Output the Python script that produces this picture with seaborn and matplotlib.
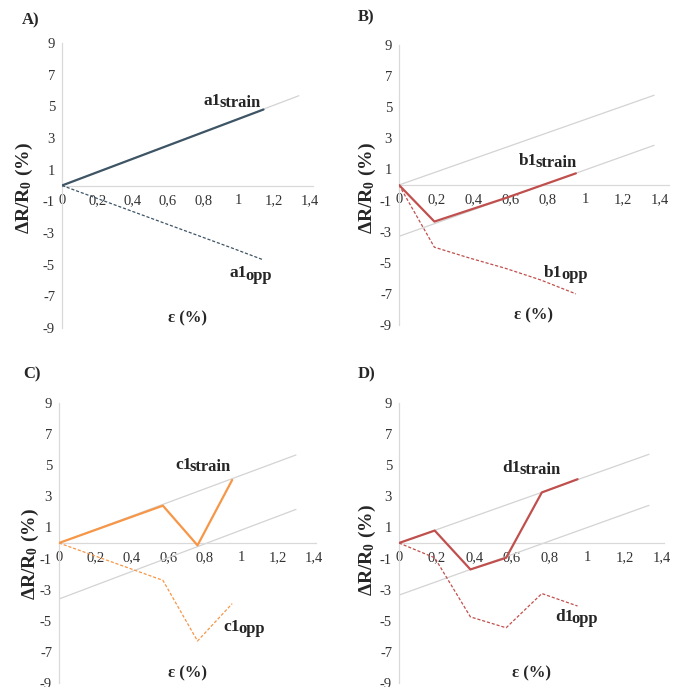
import seaborn as sns
import matplotlib.pyplot as plt

# strain steps (%)
X6 = [0, 0.19, 0.38, 0.57, 0.76, 0.95]
X7 = [0, 0.19, 0.38, 0.57, 0.76, 0.95, 1.14]

A1_STRAIN = [0, 0.8, 1.6, 2.4, 3.2, 4.0, 4.8]
A1_OPP = [0, -0.78, -1.56, -2.34, -3.12, -3.9, -4.7]
B1_STRAIN = [0, -2.35, -1.6, -0.85, -0.05, 0.75]
B1_OPP = [0, -4.0, -4.7, -5.35, -6.1, -7.0]
C1_STRAIN = [0, 0.8, 1.6, 2.4, -0.15, 4.05]
C1_OPP = [0, -0.8, -1.6, -2.4, -6.3, -3.9]
D1_STRAIN = [0, 0.8, -1.7, -0.95, 3.25, 4.1]
D1_OPP = [0, -0.95, -4.75, -5.45, -3.25, -4.05]

# light reference lines (x ends, y ends)
REF = {
    "A": [([0, 1.34], [0, 5.67])],
    "B": [([0, 1.37], [0, 5.77]), ([0, 1.37], [-3.3, 2.55])],
    "C": [([0, 1.30], [0, 5.66]), ([0, 1.30], [-3.6, 2.16])],
    "D": [([0, 1.33], [0, 5.70]), ([0, 1.33], [-3.35, 2.42])],
}

XTICKS = [0, 0.2, 0.4, 0.6, 0.8, 1.0, 1.2, 1.4]
XTICKLABELS = ["0", "0,2", "0,4", "0,6", "0,8", "1", "1,2", "1,4"]
YTICKS = [-9, -7, -5, -3, -1, 1, 3, 5, 7, 9]
YTICKLABELS = [str(v) for v in YTICKS]

sns.set_style("white")
plt.rcParams["font.family"] = ["Liberation Serif", "DejaVu Serif"]
plt.rcParams["mathtext.fontset"] = "custom"
plt.rcParams["mathtext.rm"] = "Liberation Serif"
plt.rcParams["mathtext.bf"] = "Liberation Serif:bold"
plt.rcParams["mathtext.it"] = "Liberation Serif:italic"

fig = plt.figure(figsize=(6.84, 6.87), dpi=100)
W, H = 684, 687

panels = [
    # name, rect px (left, top, right, bottom), xmax, x, strain, opp, color, labels
    ("A", (62, 43, 313, 328), 1.42, X7, A1_STRAIN, A1_OPP, "#3E5566",
     ("a1", (0.80, 5.1), (0.95, -5.8)), (-0.15, 0.49), (22, 20)),
    ("B", (399, 45, 669, 325), 1.45, X6, B1_STRAIN, B1_OPP, "#C0504D",
     ("b1", (0.645, 1.3), (0.78, -5.9)), (-0.118, 0.49), (358, 17)),
    ("C", (59, 403, 316, 683), 1.41, X6, C1_STRAIN, C1_OPP, "#F79646",
     ("c1", (0.637, 4.75), (0.90, -5.65)), (-0.11, 0.46), (23, 374)),
    ("D", (399, 403, 664, 683), 1.41, X6, D1_STRAIN, D1_OPP, "#C0504D",
     ("d1", (0.55, 4.55), (0.83, -5.0)), (-0.118, 0.475), (358, 374)),
]

for name, (l, t, r, b), xmax, xs, strain, opp, color, labs, ylab_pos, title_px in panels:
    ax = fig.add_axes([l / W, 1 - b / H, (r - l) / W, (b - t) / H])
    ax.set_facecolor("none")
    for rx, ry in REF[name]:
        ax.plot(rx, ry, color="#D3D3D3", lw=0.9, zorder=1)
    sns.lineplot(x=xs, y=strain, color=color, lw=1.6, ax=ax, zorder=3)
    sns.lineplot(x=xs, y=opp, color=color, lw=0.9, ax=ax, zorder=3,
                 linestyle=(0, (2.5, 1.5)))

    ax.set_xlim(0, xmax)
    ax.set_ylim(-9, 9)
    ax.spines["left"].set_position(("data", 0))
    ax.spines["bottom"].set_position(("data", 0))
    ax.spines["right"].set_visible(False)
    ax.spines["top"].set_visible(False)
    for s in ("left", "bottom"):
        ax.spines[s].set_color("#D9D9D9")
        ax.spines[s].set_linewidth(0.9)
    ax.set_xticks(XTICKS)
    ax.set_xticklabels(XTICKLABELS)
    ax.set_yticks(YTICKS)
    ax.set_yticklabels(YTICKLABELS)
    ax.tick_params(length=0, labelsize=10.5, pad=5, colors="#333333")
    ax.tick_params(axis="x", pad=6)

    key, sp, op = labs
    for (px, py), sub in ((sp, "strain"), (op, "opp")):
        t1 = ax.text(px, py, key, fontsize=12.5, fontweight="bold",
                     ha="left", va="baseline", zorder=4)
        ax.annotate(sub, xy=(1, 0), xycoords=t1, xytext=(-1.2, -1.6),
                    textcoords="offset points", fontsize=12, fontweight="bold",
                    ha="left", va="bottom", zorder=4)

    ax.set_xlabel("ε (%)", fontsize=12, fontweight="bold")
    ax.xaxis.set_label_coords(0.5, 0.035)
    ax.xaxis.label.set_va("center")
    ax.set_ylabel(r"$\mathbf{\Delta R/R_0}$ (%)", fontsize=14, fontweight="bold")
    ax.yaxis.set_label_coords(*ylab_pos)
    ax.yaxis.label.set_va("center")

    fig.text(title_px[0] / W, 1 - title_px[1] / H, name + ")", fontsize=12,
             fontweight="bold", ha="left", va="center")

fig.savefig("out.png", dpi=100)
